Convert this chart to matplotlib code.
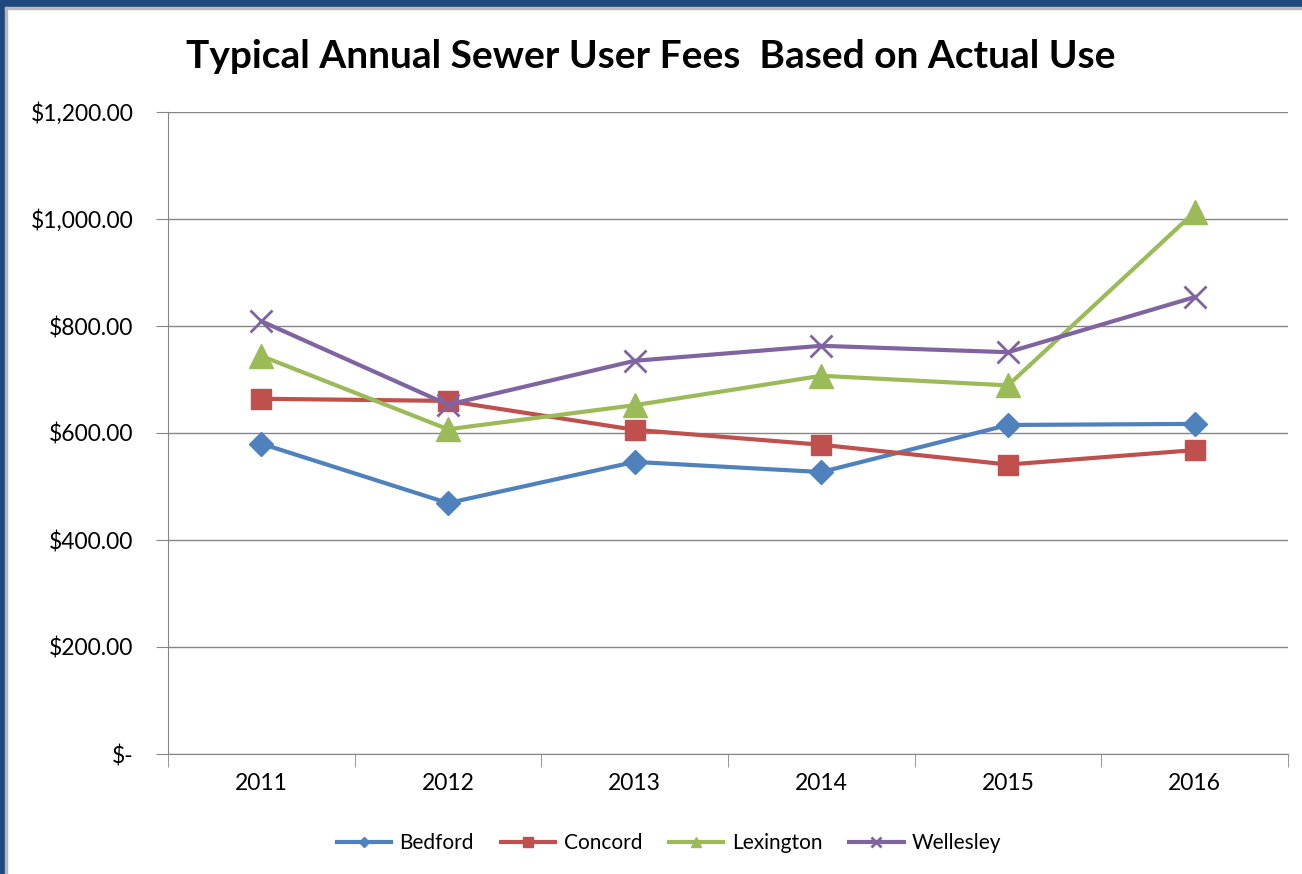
import numpy as np
import matplotlib.pyplot as plt
from matplotlib.patches import Rectangle

# data
years = ['2011', '2012', '2013', '2014', '2015', '2016']
bedford = [580, 469, 546, 527, 615, 617]
concord = [664, 660, 606, 578, 541, 568]
lexington = [744, 607, 652, 707, 689, 1013]
wellesley = [809, 653, 735, 763, 751, 854]

plt.rcParams['font.family'] = ['Lato', 'DejaVu Sans']

fig = plt.figure(figsize=(13.02, 8.74), dpi=100)

# blue frame on top and left, with a thin grey inner line
fig.patches.append(Rectangle((0, 1 - 7/874), 1, 7/874, transform=fig.transFigure,
                             color='#1F497D', zorder=0))
fig.patches.append(Rectangle((0, 0), 5/1302, 1, transform=fig.transFigure,
                             color='#1F497D', zorder=0))
fig.patches.append(Rectangle((5/1302, 0), 2/1302, 1 - 7/874, transform=fig.transFigure,
                             color='#B8B8B8', zorder=0))
fig.patches.append(Rectangle((5/1302, 1 - 9/874), 1, 2/874, transform=fig.transFigure,
                             color='#B8B8B8', zorder=0))

ax = fig.add_axes([168/1302, 1 - 754/874, 1120/1302, 642/874])
x = np.arange(len(years))

ax.plot(x, bedford, color='#4F81BD', lw=3, marker='D', ms=12, label='Bedford')
ax.plot(x, concord, color='#C0504D', lw=3, marker='s', ms=15, label='Concord')
ax.plot(x, lexington, color='#9BBB59', lw=3, marker='^', ms=17, label='Lexington')
ax.plot(x, wellesley, color='#8064A2', lw=3, marker='x', ms=16, mew=2, label='Wellesley')

ax.set_xlim(-0.5, len(years) - 0.5)
ax.set_ylim(0, 1200)
ax.set_yticks(np.arange(0, 1201, 200))
ax.set_yticklabels(['$-'] + ['${:,.2f}'.format(v) for v in range(200, 1201, 200)])
ax.set_xticks(x)
ax.set_xticklabels(years)
ax.set_xticks(np.arange(-0.5, len(years)), minor=True)
ax.tick_params(axis='x', which='major', length=0, pad=14, labelsize=16.5)
ax.tick_params(axis='x', which='minor', length=9, color='#868686')
ax.tick_params(axis='y', length=9, color='#868686', pad=16, labelsize=16.5)
ax.grid(axis='y', color='#868686', lw=1)
ax.set_axisbelow(True)
for s in ['top', 'right']:
    ax.spines[s].set_visible(False)
for s in ['left', 'bottom']:
    ax.spines[s].set_color('#868686')

fig.text(0.5, 1 - 56/874, 'Typical Annual Sewer User Fees  Based on Actual Use',
         ha='center', va='center', fontsize=28, fontweight='bold')

fig.legend(loc='center', bbox_to_anchor=(0.514, 1 - 843/874), ncol=4, frameon=False,
           fontsize=15, handlelength=2.6, columnspacing=1.3, handletextpad=0.4,
           markerscale=0.45)

fig.savefig('out.png', dpi=100)
